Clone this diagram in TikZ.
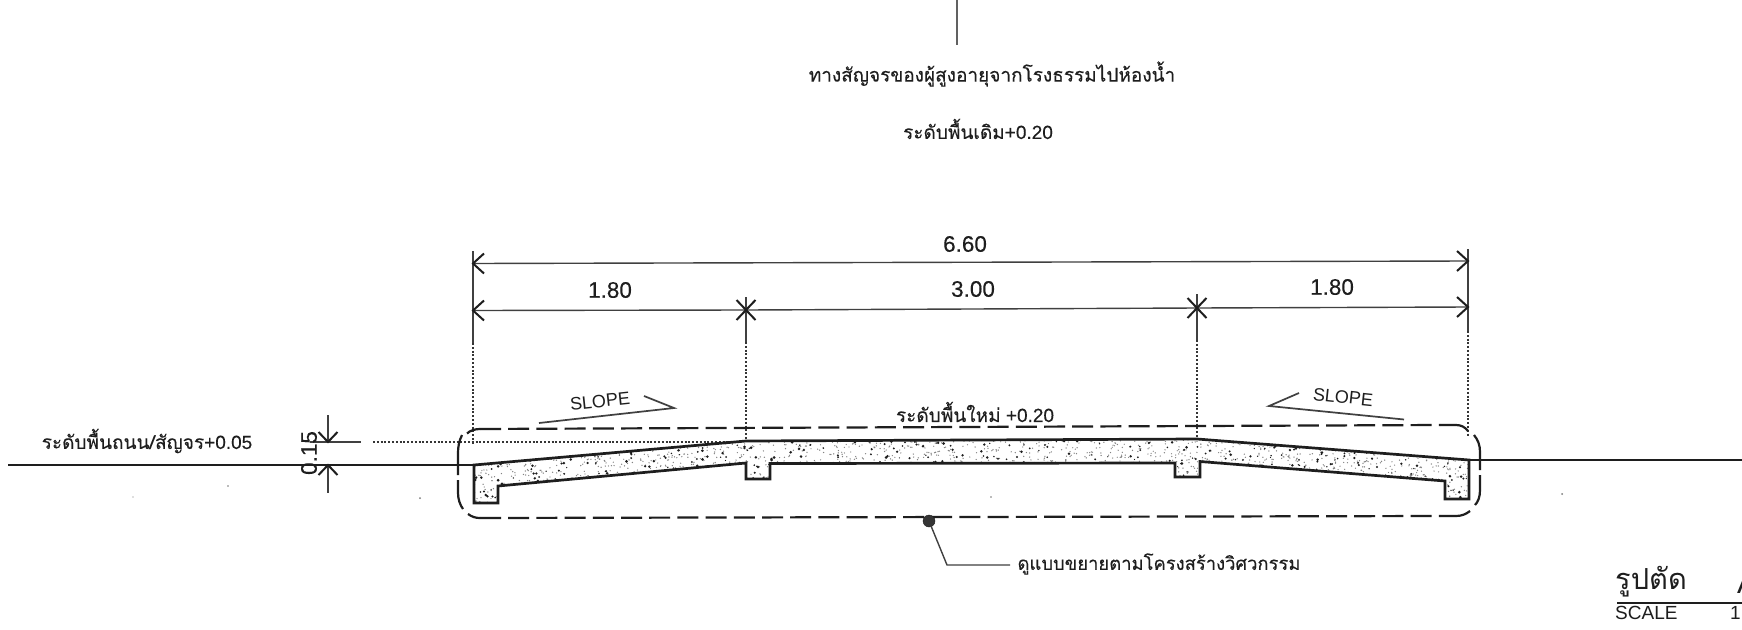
\documentclass[tikz,border=0pt]{standalone}
\usepackage{fontspec}
\setmainfont{Liberation Sans}
\newfontfamily\heavyfont[FakeBold=0.25]{Liberation Sans}
\newfontfamily\thaifont[Script=Thai,FakeBold=0.25]{Loma}
\newfontfamily\thaiplain[Script=Thai]{Loma}
\newcommand\thx[1]{{\thaifont #1}}
\definecolor{ink}{HTML}{1E1E1E}
\tikzset{
  dimline/.style={draw=ink!85,line width=1.4pt},
  tipline/.style={draw=ink,line width=2pt},
  dotline/.style={draw=ink!90,line width=1.9pt,dash pattern=on 1.9pt off 1.9pt},
  cutline/.style={draw=ink,line width=2.2pt,dash pattern=on 21pt off 7.2pt},
  cutround/.style={draw=ink,line width=2.2pt},
  slabline/.style={draw=ink,line width=2.7pt,line join=miter},
  ground/.style={draw=ink,line width=1.9pt},
  label/.style={text=ink,inner sep=0pt,font=\fontsize{22.5}{24}\selectfont\heavyfont},
  thlabel/.style={text=ink,inner sep=0pt,font=\fontsize{19}{22}\selectfont\heavyfont},
  tipl/.pic={\draw[tipline] (11,-10) -- (0,0) -- (11,10);},
  tipr/.pic={\draw[tipline] (-11,-10) -- (0,0) -- (-11,10);},
  tipx/.pic={\draw[tipline] (-9.5,-10) -- (9.5,10) (-9.5,10) -- (9.5,-10);},
  tipu/.pic={\draw[tipline] (-9.5,-10) -- (0,0) -- (9.5,-10);},
  tipd/.pic={\draw[tipline] (-9.5,10) -- (0,0) -- (9.5,10);},
}
\newcommand\slabpath{(474,465) -- (746,441) -- (1197,439) -- (1469,460) -- (1469,499) -- (1445,499) -- (1445,481) -- (1200,461.5) -- (1200,477) -- (1175,477) -- (1175,463) -- (770,463.5) -- (770,479) -- (746,479) -- (746,463) -- (498,486) -- (498,503) -- (474,503) -- cycle}
\begin{document}
\begin{tikzpicture}[x=1pt,y=-1pt]
\useasboundingbox (0,0) rectangle (1742,629);
\clip (0,0) rectangle (1742,629);
\fill[white] (0,0) rectangle (1742,629);

% top line
\coordinate (topa) at (957,0); \coordinate (topb) at (957,45);
\draw[draw=ink!70,line width=1.6pt] (topa) -- (topb);

% texts
\node[thlabel] (title) at (992,74) {\thx{ทางสัญจรของผู้สูงอายุจากโรงธรรมไปห้องน้ำ}};
\node[thlabel] (oldlevel) at (978,129) {\thx{ระดับพื้นเดิม}+0.20};

% extension lines and dimensions
\coordinate (ea1) at (473,251); \coordinate (ea2) at (473,343); \coordinate (ea3) at (473,444);
\coordinate (eb1) at (746,297); \coordinate (eb2) at (746,342); \coordinate (eb3) at (746,441);
\coordinate (ec1) at (1197,294); \coordinate (ec2) at (1197,340); \coordinate (ec3) at (1197,439);
\coordinate (ed1) at (1468,249); \coordinate (ed2) at (1468,331); \coordinate (ed3) at (1468,437);
\draw[dimline] (ea1)--(ea2) (eb1)--(eb2) (ec1)--(ec2) (ed1)--(ed2);
\draw[dotline] (ea2)--(ea3) (eb2)--(eb3) (ec2)--(ec3) (ed2)--(ed3);
\coordinate (da) at (473,263.5); \coordinate (dd) at (1468,261);
\coordinate (sa) at (473,310.5); \coordinate (sb) at (746,310); \coordinate (sc) at (1197,308); \coordinate (sd) at (1468,307);
\draw[dimline] (da)--(dd);
\draw[dimline] (sa)--(sb)--(sc)--(sd);
\pic at (da) {tipl}; \pic at (dd) {tipr};
\pic at (sa) {tipl}; \pic at (sd) {tipr};
\pic at (sb) {tipx}; \pic at (sc) {tipx};
\node[label] (dimall) at (965,244) {6.60};
\node[label] (dima) at (610,290) {1.80};
\node[label] (dimb) at (973,289) {3.00};
\node[label] (dimc) at (1332,287) {1.80};

% ground
\coordinate (gla) at (8,465); \coordinate (glb) at (474,465);
\coordinate (gra) at (1469,460); \coordinate (grb) at (1742,460);
\draw[ground] (gla)--(glb) (gra)--(grb);

% road level dim
\coordinate (lva) at (310,442); \coordinate (lvb) at (361,442);
\coordinate (lvc) at (373,442); \coordinate (lvd) at (746,442);
\coordinate (tka) at (328,415); \coordinate (tkb) at (328,442);
\coordinate (tkc) at (328,465); \coordinate (tkd) at (328,493);
\draw[dimline] (lva)--(lvb) (tka)--(tkb) (tkc)--(tkd);
\draw[dotline] (lvc)--(lvd);
\pic at (tkb) {tipu}; \pic at (tkc) {tipd};
\node[label,rotate=90] (dimh) at (309,453) {0.15};
\node[thlabel] (roadlevel) at (147,441) {\thx{ระดับพื้นถนน/สัญจร}+0.05};

% slab
\begin{scope}
\clip \slabpath;
\pgfmathsetseed{4711}
\fill[white] (474,439) rectangle (1469,503);
\fill[ink!55] \foreach \i in {1,...,2400}{ ({474+995*rnd},{438+66*rnd}) circle (0.7) };
\fill[ink] \foreach \i in {1,...,750}{ ({474+995*rnd},{438+66*rnd}) circle ({0.6+0.9*rnd}) };
\end{scope}
\draw[slabline] \slabpath;

% dashed outline
\coordinate (cta) at (480,429); \coordinate (ctb) at (1440,425);
\coordinate (cba) at (480,518); \coordinate (cbb) at (1440,516);
\draw[cutline] (cta)--(ctb);
\draw[cutline] (cba)--(cbb);
\draw[cutround] (467,433.5) .. controls (470,430.5) and (475,429) .. (cta);
\draw[cutround] (ctb) -- (1456,425) .. controls (1461,425) and (1465,427) .. (1468,431);
\draw[cutround] (462,435) .. controls (459,441) and (458,447) .. (458,453) -- (458,475);
\draw[cutround] (458,480) -- (458,493) .. controls (458,499) and (460,505) .. (463,509);
\draw[cutround] (468,514) .. controls (472,517) and (476,518) .. (cba);
\draw[cutround] (1474,435) .. controls (1478,440) and (1480,445) .. (1480,452) -- (1480,470);
\draw[cutround] (1480,475) -- (1480,490) .. controls (1480,497) and (1478,502) .. (1475,505);
\draw[cutround] (1470,511) .. controls (1466,514) and (1462,516) .. (1456,516) -- (cbb);

% slope marks
\coordinate (sla) at (539,423); \coordinate (slb) at (674,408); \coordinate (slc) at (644,396);
\coordinate (sra) at (1404,419.5); \coordinate (srb) at (1269,406); \coordinate (src) at (1299,393);
\draw[dimline,line width=1.7pt] (sla)--(slb)--(slc);
\draw[dimline,line width=1.7pt] (sra)--(srb)--(src);
\node[label,font=\fontsize{18}{20}\selectfont,rotate=6] (slopea) at (600,401) {SLOPE};
\node[label,font=\fontsize{18}{20}\selectfont,rotate=-6] (slopeb) at (1343,397) {SLOPE};
\node[thlabel] (newlevel) at (975,412) {\thx{ระดับพื้นใหม่} +0.20};

% leader
\node[circle,fill=ink!90,draw=ink,inner sep=0pt,minimum size=12pt] (dot) at (929,521) {};
\coordinate (lda) at (947,565); \coordinate (ldb) at (1010,565);
\draw[dimline] (dot)--(lda)--(ldb);
\node[thlabel,font=\fontsize{18.4}{22}\selectfont\heavyfont] (detail) at (1159,564) {\thx{ดูแบบขยายตามโครงสร้างวิศวกรรม}};

% title block
\node[text=ink,inner sep=0pt,anchor=west,font=\fontsize{29}{34}\selectfont] (sect) at (1615,582) {\thaiplain รูปตัด};
\node[text=ink,inner sep=0pt,anchor=west,font=\fontsize{30}{34}\selectfont] (secta) at (1737,583) {A};
\coordinate (tla) at (1617,603); \coordinate (tlb) at (1742,603);
\draw[ground] (tla)--(tlb);
\node[text=ink,inner sep=0pt,anchor=west,font=\fontsize{19}{22}\selectfont] (scalel) at (1615,612.5) {SCALE};
\node[text=ink,inner sep=0pt,anchor=west,font=\fontsize{19}{22}\selectfont] (scalev) at (1730,612.5) {1:};

% specks
\fill[ink!60] (420,498) circle (1) (1562,494) circle (1) (228,486) circle (0.9) (991,497) circle (0.8) (133,497) circle (0.6);
\end{tikzpicture}
\end{document}
